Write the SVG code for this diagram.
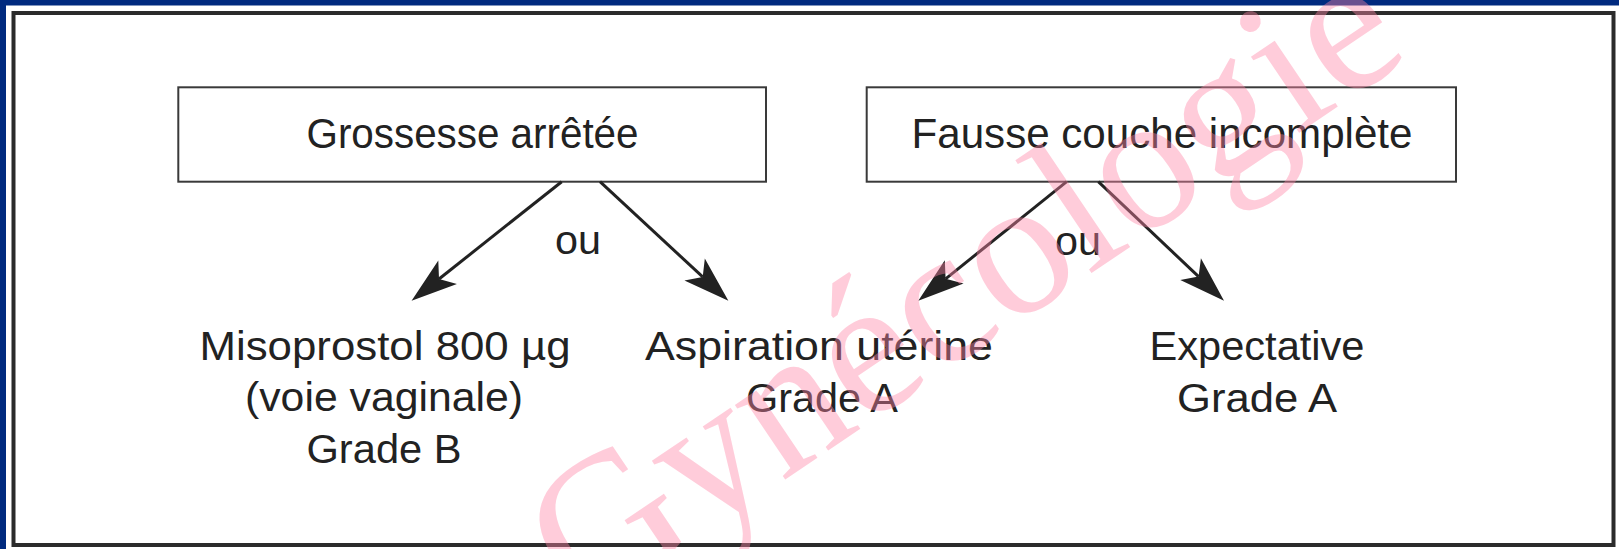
<svg xmlns="http://www.w3.org/2000/svg" width="1619" height="549" viewBox="0 0 1619 549">
  <style>
    .box { fill: #ffffff; stroke: #3a3a3a; stroke-width: 2; }
    .lbl { font-family: "Liberation Sans", Arial, sans-serif; font-size: 40px; fill: #222222; text-anchor: middle; }
    .big { font-size: 42px; }
    .edge { stroke: #222222; stroke-width: 3; fill: none; marker-end: url(#head); }
    .mark { font-family: "Liberation Serif", "Times New Roman", serif; font-size: 196px; fill: #ff86a6; fill-opacity: 0.42; text-anchor: middle; }
  </style>
  <defs>
    <!-- barbed arrowhead; origin sits at the notch, tip points along +x -->
    <marker id="head" markerUnits="userSpaceOnUse" orient="auto" refX="0" refY="0" markerWidth="50" markerHeight="34" overflow="visible">
      <path d="M35,0 L-11,-15 L0,0 L-11,15 Z" fill="#222222"/>
    </marker>
  </defs>

  <!-- page background and navy edge bands -->
  <rect x="0" y="0" width="1619" height="549" fill="#ffffff"/>
  <rect x="0" y="0" width="1619" height="5.5" fill="#002a7f"/>
  <rect x="0" y="0" width="6" height="549" fill="#002a7f"/>

  <!-- outer frame -->
  <rect x="13.5" y="13" width="1600" height="532" fill="#ffffff" stroke="#2b2b2b" stroke-width="4"/>

  <g id="grossesse">
    <rect class="box" x="178.3" y="87.3" width="587.7" height="94.4"/>
    <text class="lbl big" x="472.5" y="147.5" textLength="332" lengthAdjust="spacingAndGlyphs">Grossesse arrêtée</text>
  </g>

  <g id="fausse-couche">
    <rect class="box" x="866.7" y="87.3" width="589.3" height="94.4"/>
    <text class="lbl big" x="1162" y="147.5" textLength="501" lengthAdjust="spacingAndGlyphs">Fausse couche incomplète</text>
  </g>

  <g id="misoprostol">
    <text class="lbl" x="385" y="360" textLength="371" lengthAdjust="spacingAndGlyphs">Misoprostol 800 µg</text>
    <text class="lbl" x="384" y="411" textLength="278" lengthAdjust="spacingAndGlyphs">(voie vaginale)</text>
    <text class="lbl" x="384" y="463" textLength="155" lengthAdjust="spacingAndGlyphs">Grade B</text>
  </g>

  <g id="aspiration">
    <text class="lbl" x="819" y="360" textLength="348" lengthAdjust="spacingAndGlyphs">Aspiration utérine</text>
    <text class="lbl" x="822" y="411.5" textLength="152" lengthAdjust="spacingAndGlyphs">Grade A</text>
  </g>

  <g id="expectative">
    <text class="lbl" x="1257" y="360" textLength="215" lengthAdjust="spacingAndGlyphs">Expectative</text>
    <text class="lbl" x="1257" y="411.5" textLength="160" lengthAdjust="spacingAndGlyphs">Grade A</text>
  </g>

  <g id="connectors">
    <line class="edge" x1="561.7" y1="181.7" x2="439" y2="279"/>
    <line class="edge" x1="600" y1="181.7" x2="702.7" y2="276.9"/>
    <line class="edge" x1="1066.7" y1="181.7" x2="945.6" y2="278.8"/>
    <line class="edge" x1="1098.3" y1="181.7" x2="1198.6" y2="276.6"/>
    <text class="lbl" x="578" y="254" textLength="46" lengthAdjust="spacingAndGlyphs">ou</text>
    <text class="lbl" x="1078" y="255" textLength="46" lengthAdjust="spacingAndGlyphs">ou</text>
  </g>

  <!-- diagonal watermark over the figure -->
  <text class="mark" transform="translate(998 336) rotate(-34)">Gynécologie</text>
</svg>
